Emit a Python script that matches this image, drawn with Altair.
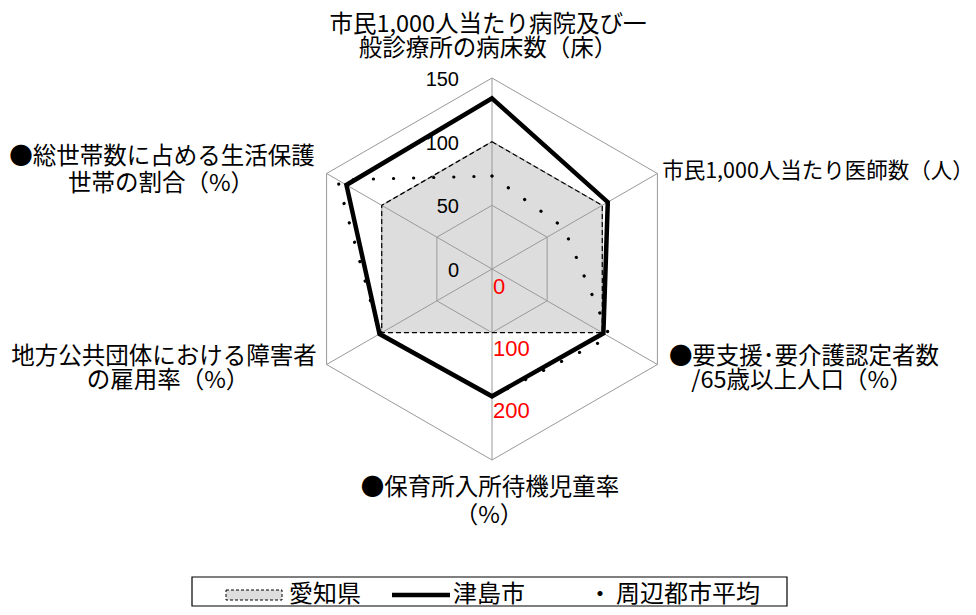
import math
import altair as alt
import pandas as pd

# ---------------- data ----------------
axis_labels = [
    ["市民1,000人当たり病院及び一", "般診療所の病床数（床）"],
    ["市民1,000人当たり医師数（人）"],
    ["●要支援･要介護認定者数", "/65歳以上人口（%）"],
    ["●保育所入所待機児童率", "（%）"],
    ["地方公共団体における障害者", "の雇用率（%）"],
    ["●総世帯数に占める生活保護", "世帯の割合（%）"],
]
series_names = ["愛知県", "津島市", "周辺都市平均"]
aichi = [100, 100, 100, 50, 100, 100]
tsushima = [134, 105, 101, 100, 102, 132]
neighbors = [73, 65, 107, 100, 102, 140]
grid_levels = [50, 100, 150]
tick_values = [0, 50, 100, 150]
tick_labels = ["0", "50", "100", "150"]
red_tick_values = [0, 100, 200]
red_tick_labels = ["0", "100", "200"]

# ---------------- layout ----------------
W, H = 960, 599
CX, CY = 484, 261          # centre of the radar in plot pixels
K = 191 / 150              # pixels per value unit
FONT = "Noto Sans CJK JP"
NUMFONT = "Liberation Sans"

xscale = alt.Scale(domain=[(0 - CX) / K, (W - CX) / K], nice=False, zero=False)
yscale = alt.Scale(domain=[(CY - H) / K, (CY - 0) / K], nice=False, zero=False)


def ang(i):
    return math.radians(90 - 60 * i)


def polar(v, i):
    return v * math.cos(ang(i)), v * math.sin(ang(i))


def page_to_units(px, py):
    return (px - 8 - CX) / K, (CY - (py - 8)) / K


def poly_df(values, name):
    rows = []
    for i, v in enumerate(values):
        x, y = polar(v, i)
        rows.append({"series": name, "idx": i, "x": x, "y": y})
    return pd.DataFrame(rows)


X = lambda: alt.X("x:Q", scale=xscale, axis=None)
Y = lambda: alt.Y("y:Q", scale=yscale, axis=None)
X2 = lambda: alt.X2("x2:Q")
Y2 = lambda: alt.Y2("y2:Q")

layers = []

# Aichi fill
layers.append(
    alt.Chart(poly_df(aichi, series_names[0])).mark_line(
        interpolate="linear-closed", fill="#dddddd", strokeOpacity=0
    ).encode(x=X(), y=Y(), order="idx:Q")
)

# grid rings
ring_rows = []
for lv in grid_levels:
    for i in range(6):
        x, y = polar(lv, i)
        ring_rows.append({"level": lv, "idx": i, "x": x, "y": y})
layers.append(
    alt.Chart(pd.DataFrame(ring_rows)).mark_line(
        interpolate="linear-closed", stroke="#999999", strokeWidth=1
    ).encode(x=X(), y=Y(), order="idx:Q", detail="level:N")
)

# spokes
spoke_rows = []
for i in range(6):
    x2, y2 = polar(grid_levels[-1], i)
    spoke_rows.append({"x": 0.0, "y": 0.0, "x2": x2, "y2": y2})
layers.append(
    alt.Chart(pd.DataFrame(spoke_rows)).mark_rule(stroke="#999999", strokeWidth=1)
    .encode(x=X(), y=Y(), x2=X2(), y2=Y2())
)

# black tick labels on top axis
tick_df = pd.DataFrame({"x": [0.0] * len(tick_values), "y": tick_values, "t": tick_labels})
layers.append(
    alt.Chart(tick_df).mark_text(
        font=NUMFONT, fontSize=20, align="right", baseline="middle", dx=-33, dy=2, color="black"
    ).encode(x=X(), y=Y(), text="t:N")
)

# red tick labels on bottom axis
red_r = [14.5 + v * 0.487 for v in red_tick_values]
red_df = pd.DataFrame({"x": [0.0] * 3, "y": [-r for r in red_r], "t": red_tick_labels})
layers.append(
    alt.Chart(red_df).mark_text(
        font=NUMFONT, fontSize=22, align="left", baseline="middle", dx=1, color="#ff0000"
    ).encode(x=X(), y=Y(), text="t:N")
)

# Aichi dashed outline
layers.append(
    alt.Chart(poly_df(aichi, series_names[0])).mark_line(
        interpolate="linear-closed", stroke="black", strokeWidth=1.2, strokeDash=[5, 3]
    ).encode(x=X(), y=Y(), order="idx:Q")
)

# Tsushima thick line
layers.append(
    alt.Chart(poly_df(tsushima, series_names[1])).mark_line(
        interpolate="linear-closed", stroke="black", strokeWidth=4.5, strokeJoin="miter"
    ).encode(x=X(), y=Y(), order="idx:Q")
)

# neighbours dotted line
layers.append(
    alt.Chart(poly_df(neighbors, series_names[2])).mark_line(
        interpolate="linear-closed", stroke="black", strokeWidth=3.2,
        strokeDash=[0.1, 20], strokeCap="round"
    ).encode(x=X(), y=Y(), order="idx:Q")
)

# axis category labels (one row per text line)
label_pos = [
    [(488, 25), (488, 49)],
    [(818, 172)],
    [(804, 357), (802, 381)],
    [(490, 488), (489, 516)],
    [(164, 357), (168, 381)],
    [(162, 157), (161, 184)],
]
lab_rows = []
for k, (lines, poss) in enumerate(zip(axis_labels, label_pos)):
    for t, (px, py) in zip(lines, poss):
        ux, uy = page_to_units(px, py)
        lab_rows.append({"x": ux, "y": uy, "t": t, "narrow": k == 1})
lab_df = pd.DataFrame(lab_rows)
layers.append(
    alt.Chart(lab_df[~lab_df["narrow"]]).mark_text(
        font=FONT, fontSize=23.5, align="center", baseline="middle", color="black"
    ).encode(x=X(), y=Y(), text="t:N")
)
layers.append(
    alt.Chart(lab_df[lab_df["narrow"]]).mark_text(
        font=FONT, fontSize=21.5, align="center", baseline="middle", color="black"
    ).encode(x=X(), y=Y(), text="t:N")
)

# ---------------- legend (manual) ----------------
def pv(p):
    return alt.value(p - 8)

LEG_Y = 595
base = alt.Chart(pd.DataFrame({"a": [0]}))
layers.append(
    base.mark_rect(filled=False, stroke="black", strokeWidth=1.2).encode(
        x=pv(192), x2=pv(787), y=pv(577), y2=pv(606)
    )
)
layers.append(
    base.mark_rect(fill="#dddddd", stroke="black", strokeWidth=1, strokeDash=[3, 2]).encode(
        x=pv(226), x2=pv(282), y=pv(LEG_Y - 5), y2=pv(LEG_Y + 5)
    )
)
layers.append(
    base.mark_rule(stroke="black", strokeWidth=4.5).encode(
        x=pv(392), x2=pv(450), y=pv(LEG_Y)
    )
)
leg_text = pd.DataFrame({
    "t": [series_names[0], series_names[1], "・", series_names[2]],
    "px": [289 - 8, 453 - 8, 588 - 8, 616 - 8],
})
layers.append(
    alt.Chart(leg_text).mark_text(
        font=FONT, fontSize=24, align="left", baseline="middle", color="black"
    ).encode(
        x=alt.X("px:Q", scale=None, axis=None),
        y=alt.value(LEG_Y - 8),
        text="t:N",
    )
)

chart = alt.layer(*layers).properties(
    width=W, height=H, padding=0,
    autosize=alt.AutoSizeParams(type="none"),
    background="white",
).configure_view(stroke=None)

chart.save("out.html", embed_options={"renderer": "svg", "actions": False})
